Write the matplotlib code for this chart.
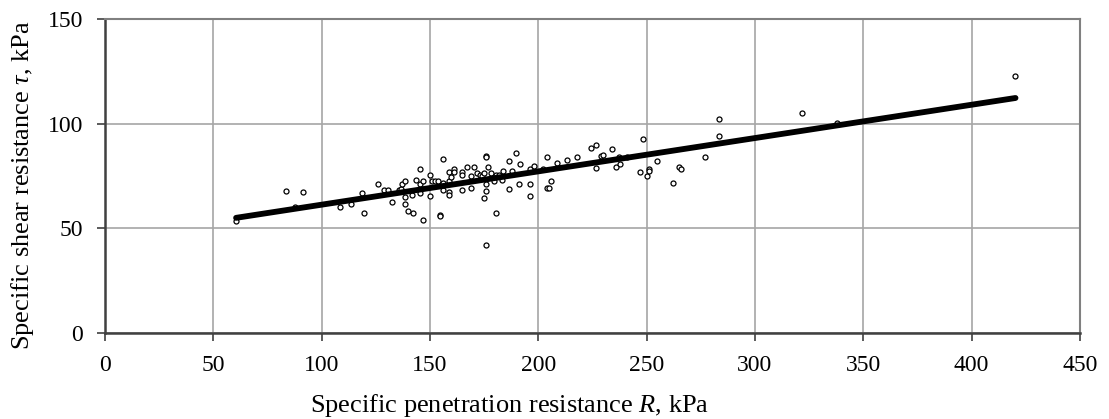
import matplotlib
matplotlib.use('Agg')
import matplotlib.pyplot as plt
import numpy as np

plt.rcParams['font.family'] = ['Liberation Serif', 'DejaVu Serif']
plt.rcParams['mathtext.fontset'] = 'custom'
plt.rcParams['mathtext.rm'] = 'Liberation Serif'
plt.rcParams['mathtext.it'] = 'Liberation Serif:italic'

# measured points: specific penetration resistance R (kPa) vs shear resistance tau (kPa)
r_vals = [60.5, 83.5, 87.6, 91.3, 108.5, 113.5, 118.4, 119.6, 126.2, 128.9,
          130.7, 132.6, 135.6, 136.5, 137.3, 138.7, 138.7, 138.7, 140.0, 141.8,
          142.4, 143.6, 145.5, 145.5, 146.7, 145.5, 146.7, 149.8, 149.8, 151.0,
          152.3, 153.5, 154.7, 154.7, 156.0, 156.0, 156.0, 159.0, 159.0, 159.0,
          159.0, 159.7, 160.9, 160.9, 164.6, 164.6, 164.6, 167.1, 168.9, 168.9,
          170.1, 171.9, 173.2, 173.8, 175.1, 175.7, 175.7, 175.7, 175.7, 175.1,
          175.7, 176.9, 178.1, 179.4, 180.6, 181.8, 180.6, 183.7, 183.1, 186.7,
          186.7, 188.0, 189.8, 191.1, 191.7, 196.0, 196.0, 196.0, 197.8, 202.4,
          203.8, 203.8, 205.1, 205.7, 208.8, 213.1, 218.0, 224.2, 226.6, 226.6,
          229.1, 229.7, 234.0, 235.9, 237.1, 237.7, 240.8, 248.2, 247.0, 250.0,
          251.3, 251.3, 255.0, 262.4, 264.8, 266.0, 277.1, 283.3, 283.3, 321.9,
          338.0, 420.3]
tau_vals = [53.5, 68.0, 60.0, 67.3, 60.3, 61.6, 66.9, 57.3, 71.3, 68.4,
            68.4, 62.4, 68.4, 68.8, 71.2, 72.4, 64.9, 61.6, 58.5, 66.0,
            57.3, 73.1, 78.1, 71.2, 72.4, 66.9, 54.1, 75.6, 65.6, 72.4,
            72.4, 72.4, 56.5, 55.9, 83.2, 71.6, 68.1, 76.9, 72.4, 67.3,
            66.0, 74.3, 78.1, 76.9, 76.9, 75.6, 68.1, 79.4, 75.0, 69.2,
            79.4, 76.2, 75.6, 75.0, 76.2, 84.5, 83.9, 71.2, 68.0, 64.3,
            42.0, 79.4, 76.2, 72.4, 75.6, 75.6, 57.3, 77.5, 73.1, 82.0,
            68.6, 77.5, 85.8, 71.2, 80.7, 78.2, 71.2, 65.4, 80.0, 78.1,
            83.9, 69.2, 69.2, 72.4, 81.3, 82.6, 83.9, 88.3, 89.6, 78.8,
            84.5, 85.1, 87.7, 79.4, 83.9, 80.7, 83.9, 92.8, 76.9, 75.0,
            78.1, 77.5, 82.0, 71.8, 79.4, 78.1, 83.9, 102.2, 93.9, 105.3,
            100.4, 122.5]

# linear trend
slope = 0.159
intercept = 45.4

fig = plt.figure(figsize=(11.09, 4.19), dpi=100)
ax = fig.add_axes([0.0947, 0.205, 0.879, 0.75])

ax.set_xlim(0, 450)
ax.set_ylim(0, 150)
ax.set_xticks(np.arange(0, 451, 50))
ax.set_yticks(np.arange(0, 151, 50))
ax.grid(True, color='#a6a6a6', linewidth=1.2)
ax.set_axisbelow(True)

ax.plot(r_vals, tau_vals, linestyle='none', marker='o', markersize=3.6,
        markerfacecolor='white', markeredgecolor='black', markeredgewidth=0.9, zorder=3)

xr = np.array([min(r_vals), max(r_vals)])
ax.plot(xr, slope * xr + intercept, color='black', linewidth=4.2,
        solid_capstyle='round', zorder=4)

for side in ['top', 'right']:
    ax.spines[side].set_color('#808080')
    ax.spines[side].set_linewidth(1.5)
for side in ['left', 'bottom']:
    ax.spines[side].set_color('#404040')
    ax.spines[side].set_linewidth(1.8)

ax.tick_params(axis='both', direction='out', length=5.5, width=1.2, colors='#404040',
               labelcolor='black', labelsize=17)
ax.tick_params(axis='x', pad=10)
ax.tick_params(axis='y', pad=10.5)

ax.set_xlabel(r'Specific penetration resistance $\mathit{R}$, kPa', fontsize=19)
ax.set_ylabel(r'Specific shear resistance $\mathit{\tau}$, kPa', fontsize=19)
# the title boxes sit off-centre in the original
ax.xaxis.set_label_coords(0.415, -0.188)
ax.yaxis.set_label_coords(-0.0708, 0.471)

fig.savefig('out.png', dpi=100)
